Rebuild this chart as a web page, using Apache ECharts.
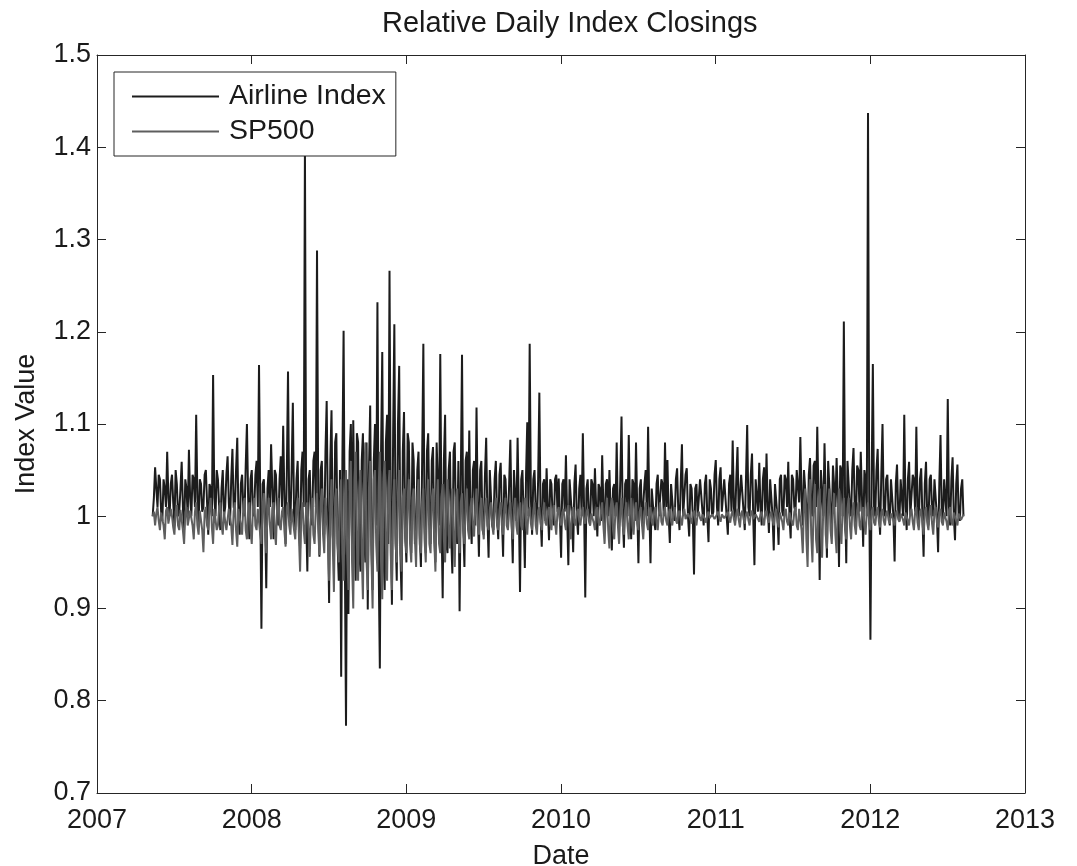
<!DOCTYPE html>
<html>
<head>
<meta charset="utf-8">
<script src="https://cdn.jsdelivr.net/npm/echarts@6/dist/echarts.min.js"></script>
<style>
html,body{margin:0;padding:0;background:#fff;}
#chart{width:1077px;height:866px;}
</style>
</head>
<body>
<div id="chart"></div>
<script>
// ---- data ----
const startYear = 2007.36;      // first sample (decimal year)
const stepYears = 1 / 128;      // spacing between samples (decimal years)
const xTickValues = [2007, 2008, 2009, 2010, 2011, 2012, 2013];
const yTickValues = [0.7, 0.8, 0.9, 1.0, 1.1, 1.2, 1.3, 1.4, 1.5];
const seriesNames = ['Airline Index', 'SP500'];

const airline = [
  1.00,1.02, 1.053,1.03, 1.01,1.045, 1.04,1.005, 0.995,1.04, 1.03,1.01, 1.070,1.02, 1.00,1.035, 1.045,1.015, 0.99,1.05, 1.035,1.00, 1.005,1.03, 1.059,1.01, 0.985,1.04, 1.03,1.00, 1.072,1.02,
  1.00,1.045, 1.04,1.01, 1.110,1.02, 0.99,1.04, 1.035,1.005, 1.01,1.045, 1.05,1.015, 0.98,1.035, 1.03,1.00, 1.153,1.02, 1.00,1.05, 1.04,1.01, 0.985,1.03, 1.05,1.00, 1.01,1.045, 1.065,1.015,
  0.99,1.04, 1.073,1.01, 1.005,1.05, 1.085,1.00, 0.98,1.035, 1.045,1.01, 1.00,1.055, 1.100,1.02, 0.975,1.04, 1.05,1.00, 1.005,1.045, 1.06,1.01, 1.164,1.02, 0.878,1.035, 1.04,1.00, 0.922,1.03,
  1.05,1.01, 1.078,1.03, 0.975,1.05, 1.045,1.00, 0.99,1.04, 1.065,1.01, 1.098,1.02, 0.97,1.045, 1.157,1.01, 0.995,1.05, 1.123,1.00, 0.985,1.04, 1.06,0.99, 0.965,1.05, 1.07,1.01, 1.400,1.00,
  0.94,1.04, 1.05,1.00, 0.99,1.06, 1.07,1.01, 1.288,1.02, 0.956,1.05, 1.06,0.99, 0.98,1.07, 1.125,1.00, 0.906,1.06, 1.115,0.98, 0.958,1.08, 1.09,0.97, 0.93,1.05, 0.826,1.06, 1.201,0.96,
  0.773,1.04, 0.894,1.07, 1.10,0.97, 1.104,1.00, 0.93,1.09, 1.08,0.96, 0.94,1.06, 1.09,0.98, 0.95,1.08, 0.899,1.05, 1.120,0.97, 0.92,1.06, 1.10,0.99, 1.232,0.95, 0.835,1.07, 1.178,0.96,
  0.92,1.08, 1.11,0.97, 1.266,1.00, 0.904,1.09, 1.208,0.98, 0.93,1.10, 1.163,0.96, 0.909,1.07, 1.113,0.98, 0.95,1.09, 1.08,0.99, 0.96,1.08, 1.06,0.97, 0.975,1.05, 1.07,0.98, 0.945,1.06,
  1.187,0.99, 0.96,1.07, 1.09,1.00, 0.97,1.06, 1.075,0.98, 0.95,1.08, 1.08,0.99, 1.176,1.00, 0.911,1.06, 1.110,0.97, 0.96,1.05, 1.07,0.98, 0.938,1.07, 1.08,0.99, 0.97,1.06, 0.897,1.04,
  1.175,0.99, 0.945,1.06, 1.07,0.99, 1.093,1.00, 0.97,1.05, 1.06,0.99, 1.118,1.01, 0.956,1.05, 1.06,0.985, 0.98,1.045, 1.085,1.00, 0.955,1.05, 1.05,0.99, 0.985,1.04, 1.06,1.00, 0.975,1.045,
  1.058,1.00, 0.956,1.045, 1.04,1.005, 0.99,1.035, 1.083,1.00, 0.949,1.05, 1.05,0.995, 1.085,1.01, 0.918,1.04, 1.05,1.00, 0.944,1.045, 1.102,1.00, 1.187,1.02, 0.98,1.04, 1.05,1.005, 0.99,1.04,
  1.134,1.00, 0.967,1.035, 1.04,0.995, 1.052,1.01, 0.974,1.04, 1.035,1.00, 0.99,1.04, 1.045,1.005, 1.041,1.00, 0.955,1.035, 1.04,1.005, 1.066,1.00, 0.947,1.04, 1.04,1.00, 0.961,1.035, 1.056,1.00,
  0.98,1.03, 1.045,1.00, 1.090,1.01, 0.912,1.03, 1.04,1.00, 0.99,1.04, 1.035,1.00, 1.052,1.01, 0.978,1.035, 1.03,0.995, 1.066,1.01, 0.985,1.035, 1.04,1.00, 1.050,1.005, 0.963,1.03, 1.035,1.00,
  1.080,1.00, 0.99,1.04, 1.108,1.00, 0.966,1.035, 1.04,1.00, 1.088,1.01, 0.975,1.04, 1.035,0.995, 1.080,1.01, 0.949,1.03, 1.04,0.99, 0.99,1.035, 1.05,1.00, 1.097,1.01, 0.949,1.03, 1.03,0.995,
  0.985,1.035, 1.045,1.00, 1.00,1.04, 1.035,1.00, 1.080,1.01, 1.061,1.00, 0.971,1.035, 1.035,1.00, 0.995,1.04, 1.052,1.005, 0.985,1.035, 1.078,1.00, 1.00,1.045, 1.052,1.00, 0.978,1.035, 1.03,1.00,
  0.937,1.03, 1.035,1.00, 1.00,1.04, 1.04,1.005, 0.99,1.035, 1.045,1.00, 0.972,1.04, 1.03,1.00, 1.005,1.045, 1.061,1.01, 0.99,1.04, 1.053,1.005, 1.005,1.04, 1.04,1.00, 0.98,1.035, 1.045,1.005,
  1.082,1.01, 0.995,1.04, 1.075,1.00, 1.00,1.045, 1.045,1.005, 0.985,1.04, 1.099,1.01, 1.00,1.045, 1.068,1.00, 0.947,1.04, 1.04,1.005, 1.058,1.01, 0.99,1.04, 1.053,1.00, 1.068,1.01, 0.982,1.04,
  1.04,1.00, 0.963,1.035, 1.035,1.00, 0.969,1.04, 1.045,1.005, 1.00,1.045, 1.04,1.01, 1.059,1.00, 0.976,1.045, 1.04,1.01, 1.005,1.05, 1.05,1.015, 1.086,1.02, 0.99,1.05, 1.05,1.01, 0.978,1.045,
  1.063,1.01, 1.00,1.055, 1.06,1.01, 1.097,1.02, 0.931,1.05, 1.05,1.00, 1.079,1.015, 0.955,1.06, 1.06,1.005, 0.99,1.055, 1.055,1.01, 1.063,1.02, 0.945,1.055, 1.05,1.00, 1.211,1.02, 0.949,1.06,
  1.06,1.01, 1.00,1.05, 1.074,1.01, 0.99,1.055, 1.05,1.005, 1.070,1.02, 0.967,1.05, 1.04,1.00, 1.437,1.02, 0.866,1.04, 1.165,1.01, 1.00,1.05, 1.073,1.005, 0.98,1.045, 1.100,1.01, 1.00,1.04,
  1.045,1.005, 0.99,1.04, 1.04,1.00, 0.951,1.035, 1.056,1.005, 0.995,1.04, 1.04,1.00, 1.110,1.01, 0.985,1.04, 1.059,1.00, 1.00,1.045, 1.04,1.005, 1.097,1.01, 0.99,1.04, 1.052,1.00, 0.956,1.035,
  1.059,1.00, 0.99,1.04, 1.045,1.005, 1.00,1.04, 1.04,1.00, 0.961,1.035, 1.088,1.005, 0.995,1.04, 1.04,1.00, 1.127,1.01, 0.99,1.04, 1.064,1.00, 0.974,1.035, 1.056,1.00, 0.995,1.03, 1.04,1.00
];

const sp500 = [
  1.00,1.005, 0.99,1.003, 1.01,0.995, 0.985,1.004, 1.005,0.99, 0.975,1.006, 1.01,0.992, 0.99,1.008, 1.00,0.988, 0.98,1.005, 1.012,0.99, 0.985,1.007, 1.005,0.985, 0.97,1.004, 1.01,0.99, 0.99,1.006,
  1.008,0.99, 0.975,1.005, 1.015,0.99, 0.98,1.006, 1.005,0.985, 0.961,1.004, 1.01,0.99, 0.985,1.01, 1.02,0.988, 0.97,1.008, 1.01,0.985, 0.99,1.01, 1.015,0.99, 0.98,1.005, 1.005,0.985, 0.985,1.008,
  1.01,0.99, 0.969,1.005, 1.015,0.985, 0.967,1.008, 1.01,0.99, 0.98,1.01, 1.02,0.985, 0.975,1.005, 1.015,0.985, 0.97,1.01, 1.02,0.99, 0.985,1.008, 1.01,0.98, 0.97,1.012, 1.025,0.985, 0.96,1.005,
  1.02,0.99, 0.975,1.008, 1.015,0.985, 0.969,1.01, 1.02,0.99, 0.985,1.005, 1.01,0.985, 0.967,1.01, 1.015,0.99, 0.98,1.008, 1.01,0.985, 0.975,1.01, 1.02,0.98, 0.94,1.005, 1.015,0.985, 0.97,1.01,
  1.015,0.985, 0.956,1.005, 1.02,0.98, 0.97,1.01, 1.025,0.985, 0.958,1.015, 1.03,0.98, 0.96,1.02, 1.02,0.975, 0.93,1.01, 1.04,0.97, 0.918,1.02, 1.03,0.97, 0.95,1.025, 1.04,0.96, 0.93,1.02,
  1.05,0.96, 0.92,1.03, 1.06,0.95, 0.90,1.04, 1.07,0.97, 0.93,1.03, 1.05,0.96, 0.91,1.04, 1.08,0.95, 0.92,1.03, 1.06,0.96, 0.90,1.04, 1.05,0.97, 0.94,1.03, 1.07,0.95, 0.91,1.04,
  1.06,0.97, 0.93,1.03, 1.05,0.96, 0.92,1.02, 1.04,0.97, 0.95,1.025, 1.05,0.97, 0.94,1.02, 1.03,0.975, 0.96,1.02, 1.04,0.97, 0.95,1.02, 1.03,0.975, 0.945,1.02, 1.04,0.97, 0.96,1.015,
  1.03,0.975, 0.95,1.02, 1.04,0.97, 0.96,1.02, 1.03,0.975, 0.94,1.015, 1.04,0.97, 0.96,1.02, 1.035,0.975, 0.95,1.02, 1.04,0.98, 0.965,1.015, 1.03,0.975, 0.945,1.02, 1.03,0.98, 0.96,1.015,
  1.025,0.985, 0.97,1.01, 1.03,0.985, 0.975,1.01, 1.02,0.99, 0.978,1.01, 1.03,0.99, 0.98,1.008, 1.02,0.99, 0.975,1.01, 1.02,0.99, 0.985,1.008, 1.015,0.99, 0.98,1.01, 1.02,0.99, 0.985,1.006,
  1.015,0.99, 0.98,1.008, 1.02,0.99, 0.985,1.006, 1.015,0.99, 0.975,1.008, 1.02,0.99, 0.98,1.006, 1.015,0.99, 0.985,1.008, 1.02,0.99, 0.98,1.005, 1.01,0.992, 0.985,1.006, 1.015,0.99, 0.98,1.006,
  1.01,0.993, 0.985,1.005, 1.015,0.993, 0.99,1.005, 1.01,0.992, 0.985,1.006, 1.012,0.993, 0.98,1.005, 1.01,0.994, 0.99,1.004, 1.008,0.993, 0.985,1.006, 1.012,0.99, 0.975,1.005, 1.01,0.993, 0.99,1.004,
  1.008,0.995, 0.99,1.004, 1.01,0.995, 0.992,1.004, 1.008,0.995, 0.99,1.003, 1.005,0.993, 0.985,1.005, 1.01,0.993, 0.99,1.006, 1.015,0.99, 0.97,1.008, 1.02,0.985, 0.965,1.01, 1.02,0.985, 0.975,1.008,
  1.015,0.99, 0.97,1.005, 1.02,0.99, 0.98,1.006, 1.015,0.99, 0.975,1.005, 1.02,0.99, 0.98,1.006, 1.015,0.992, 0.985,1.005, 1.01,0.99, 0.975,1.004, 1.015,0.992, 0.985,1.004, 1.01,0.994, 0.99,1.004,
  1.01,0.994, 0.985,1.004, 1.015,0.994, 0.99,1.004, 1.01,0.995, 0.99,1.003, 1.008,0.995, 0.99,1.003, 1.01,0.996, 0.992,1.003, 1.006,0.996, 0.99,1.003, 1.008,0.997, 0.995,1.003, 1.005,0.997, 0.992,1.003,
  1.006,0.997, 0.99,1.002, 1.005,0.998, 0.995,1.002, 1.004,0.997, 0.993,1.002, 1.005,0.998, 0.996,1.002, 1.004,0.997, 0.995,1.002, 1.005,0.998, 0.994,1.002, 1.004,0.998, 0.996,1.002, 1.005,0.997, 0.993,1.002,
  1.006,0.997, 0.99,1.003, 1.008,0.996, 0.988,1.003, 1.006,0.997, 0.992,1.002, 1.005,0.996, 0.99,1.003, 1.006,0.997, 0.995,1.002, 1.004,0.997, 0.994,1.002, 1.005,0.996, 0.99,1.003, 1.006,0.997, 0.993,1.002,
  1.005,0.996, 0.99,1.003, 1.008,0.995, 0.988,1.004, 1.006,0.994, 0.985,1.005, 1.008,0.994, 0.99,1.004, 1.005,0.993, 0.99,1.005, 1.01,0.99, 0.985,1.008, 1.01,0.985, 0.96,1.015, 1.03,0.975, 0.945,1.02,
  1.04,0.98, 0.95,1.015, 1.035,0.975, 0.96,1.015, 1.03,0.98, 0.955,1.01, 1.035,0.98, 0.965,1.01, 1.03,0.985, 0.97,1.01, 1.025,0.98, 0.96,1.01, 1.03,0.985, 0.97,1.01, 1.02,0.985, 0.975,1.008,
  1.02,0.99, 0.975,1.006, 1.015,0.99, 0.98,1.006, 1.015,0.99, 0.985,1.005, 1.01,0.99, 0.98,1.006, 1.015,0.992, 0.985,1.005, 1.01,0.993, 0.99,1.004, 1.01,0.994, 0.988,1.004, 1.008,0.995, 0.99,1.003,
  1.006,0.996, 0.992,1.003, 1.005,0.996, 0.99,1.003, 1.006,0.997, 0.994,1.003, 1.005,0.996, 0.99,1.004, 1.006,0.995, 0.99,1.004, 1.008,0.994, 0.985,1.005, 1.01,0.993, 0.985,1.005, 1.008,0.993, 0.98,1.005,
  1.01,0.993, 0.985,1.005, 1.012,0.992, 0.98,1.006, 1.01,0.993, 0.988,1.004, 1.008,0.994, 0.99,1.004, 1.006,0.994, 0.985,1.005, 1.01,0.994, 0.99,1.004, 1.005,0.995, 0.99,1.003, 1.004,0.996, 0.995,1.002
];

// ---- build chart ----
const toPairs = arr => arr.map((v, i) => [startYear + i * stepYears, v]);
const FONT = '"Liberation Sans", Arial, Helvetica, sans-serif';
const AX = '#262626';
const xMin = xTickValues[0], xMax = xTickValues[xTickValues.length - 1];
const yMin = yTickValues[0], yMax = yTickValues[yTickValues.length - 1];
const yLabel = v => String(+(+v).toFixed(1));

const chart = echarts.init(document.getElementById('chart'), null, {renderer: 'canvas'});
chart.setOption({
  animation: false,
  backgroundColor: '#ffffff',
  title: {
    text: 'Relative Daily Index Closings',
    left: 377, top: 4, padding: 5,
    textStyle: {fontFamily: FONT, fontSize: 29, fontWeight: 'normal', color: '#1a1a1a'}
  },
  legend: {
    orient: 'vertical',
    left: 114, top: 72,
    padding: [10, 10, 10, 18],
    itemGap: 6,
    itemWidth: 87, itemHeight: 2,
    icon: 'rect',
    backgroundColor: '#ffffff',
    borderColor: AX, borderWidth: 1,
    textStyle: {fontFamily: FONT, fontSize: 28.5, color: '#1a1a1a', padding: [0, 0, 0, 5]},
    data: seriesNames
  },
  grid: {left: 97, right: 52, top: 55, bottom: 73, containLabel: false, outerBoundsMode: 'none'},
  xAxis: [{
    type: 'value', min: xMin, max: xMax, interval: 1,
    name: 'Date', nameLocation: 'middle', nameGap: 50,
    nameTextStyle: {fontFamily: FONT, fontSize: 27, color: '#1a1a1a'},
    axisLine: {show: true, onZero: false, lineStyle: {color: AX, width: 1}},
    axisTick: {show: true, inside: true, length: 9, lineStyle: {color: AX}},
    axisLabel: {fontFamily: FONT, fontSize: 27, color: '#1a1a1a', margin: 14, formatter: v => String(v)},
    splitLine: {show: false}
  }, {
    type: 'value', min: xMin, max: xMax, interval: 1, position: 'top',
    axisLine: {show: true, onZero: false, lineStyle: {color: AX, width: 1}},
    axisTick: {show: true, inside: true, length: 9, lineStyle: {color: AX}},
    axisLabel: {show: false}, splitLine: {show: false}
  }],
  yAxis: [{
    type: 'value', min: yMin, max: yMax, interval: 0.1,
    name: 'Index Value', nameLocation: 'middle', nameGap: 57,
    nameTextStyle: {fontFamily: FONT, fontSize: 27, color: '#1a1a1a'},
    axisLine: {show: true, onZero: false, lineStyle: {color: AX, width: 1}},
    axisTick: {show: true, inside: true, length: 9, lineStyle: {color: AX}},
    axisLabel: {fontFamily: FONT, fontSize: 27, color: '#1a1a1a', margin: 6, formatter: yLabel},
    splitLine: {show: false}
  }, {
    type: 'value', min: yMin, max: yMax, interval: 0.1, position: 'right',
    axisLine: {show: true, onZero: false, lineStyle: {color: AX, width: 1}},
    axisTick: {show: true, inside: true, length: 9, lineStyle: {color: AX}},
    axisLabel: {show: false}, splitLine: {show: false}
  }],
  series: [{
    name: seriesNames[0], type: 'line', xAxisIndex: 0, yAxisIndex: 0,
    data: toPairs(airline), symbol: 'none', color: '#1c1c1c',
    lineStyle: {color: '#1c1c1c', width: 2}
  }, {
    name: seriesNames[1], type: 'line', xAxisIndex: 0, yAxisIndex: 0,
    data: toPairs(sp500), symbol: 'none', color: '#5e5e5e',
    lineStyle: {color: '#5e5e5e', width: 2}
  }]
});
</script>
</body>
</html>
